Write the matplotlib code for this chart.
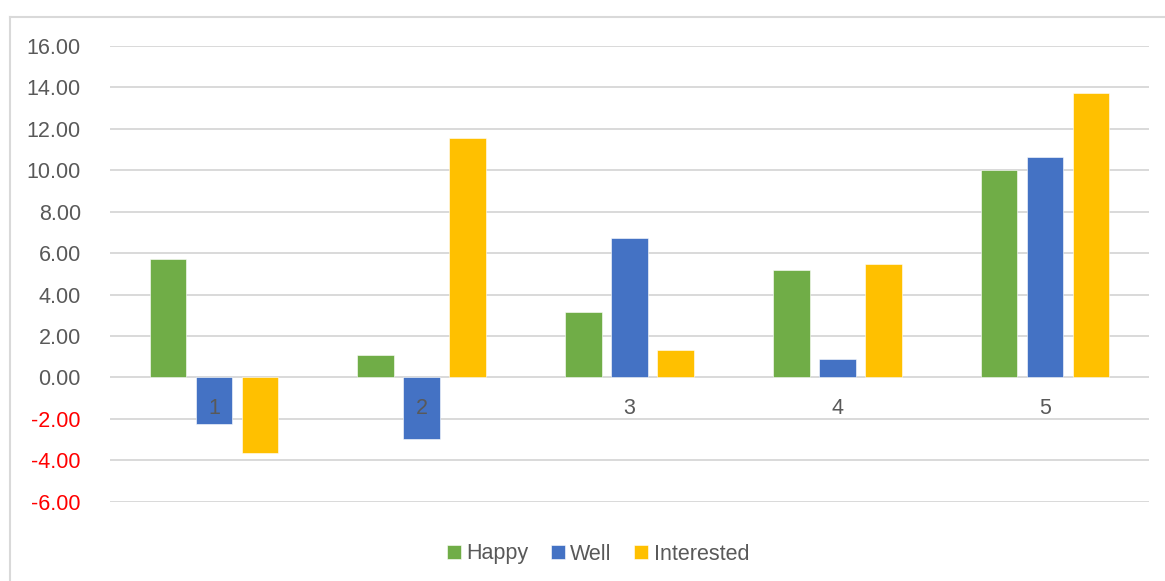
import matplotlib
matplotlib.use("Agg")
import matplotlib.pyplot as plt
from matplotlib.lines import Line2D
import numpy as np

categories = ["1", "2", "3", "4", "5"]
series_names = ["Happy", "Well", "Interested"]
happy = [5.72, 1.08, 3.16, 5.19, 10.01]
well = [-2.26, -2.97, 6.73, 0.89, 10.63]
interested = [-3.67, 11.56, 1.32, 5.48, 13.73]
colors = ["#70AD47", "#4472C4", "#FFC000"]
yticks = [-6, -4, -2, 0, 2, 4, 6, 8, 10, 12, 14, 16]

plt.rcParams['font.family'] = ['Liberation Sans', 'DejaVu Sans']
text_color = "#595959"
grid_color = "#D9D9D9"
fs = 15.5

fig = plt.figure(figsize=(11.65, 5.81), dpi=100)
ax = fig.add_axes([110/1165, 1 - 501.7/581, (1149-110)/1165, (501.7-46)/581])

x = np.arange(len(categories))
step = 0.221
width = 0.176
for k, (vals, name) in enumerate(zip([happy, well, interested], series_names)):
    ax.bar(x + (k - 1) * step, vals, width=width, color=colors[k], label=name,
           zorder=2, edgecolor="white", linewidth=0.4)

ax.set_xlim(-0.5, len(categories) - 0.5)
ax.set_ylim(-6, 16)
ax.set_yticks(yticks)
labels = ax.set_yticklabels([f"{v:.2f}" for v in yticks])
for lab, v in zip(labels, yticks):
    lab.set_color("#FF0000" if v < 0 else text_color)
ax.tick_params(axis='y', length=0, pad=20.9, labelsize=fs)
ax.set_xticks([])
ax.grid(axis='y', color=grid_color, linewidth=1.4, zorder=0)
for s in ax.spines.values():
    s.set_visible(False)

for i, c in enumerate(categories):
    ax.annotate(c, xy=(i, 0), xytext=(0, -22.3), textcoords='offset points',
                ha='center', va='center', fontsize=fs, color=text_color, zorder=5)

leg = fig.legend(loc='center', bbox_to_anchor=(598/1165, 1 - 554/581), ncol=3,
                 frameon=False, fontsize=fs, handlelength=0.65, handleheight=0.65,
                 handletextpad=0.25, columnspacing=1.05)
for t in leg.get_texts():
    t.set_color(text_color)

fig.add_artist(Line2D([10/1165, 10/1165], [0, 1 - 17/581], transform=fig.transFigure,
                      color=grid_color, linewidth=1.5))
fig.add_artist(Line2D([10/1165, 1], [1 - 17/581, 1 - 17/581], transform=fig.transFigure,
                      color=grid_color, linewidth=1.5))

fig.savefig("out.png", dpi=100, facecolor="white")
